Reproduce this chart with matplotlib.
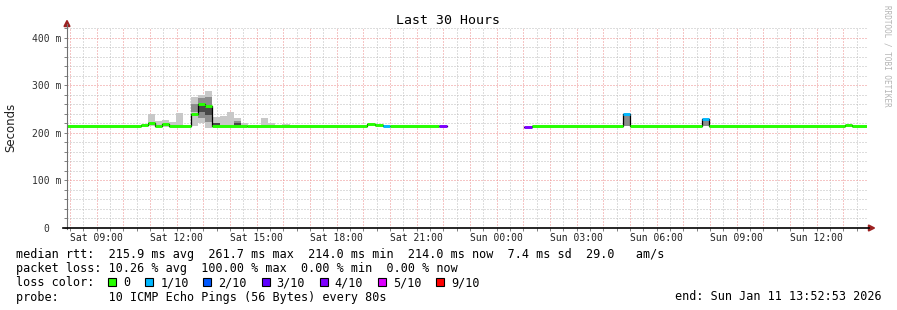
import datetime as dt

import matplotlib
matplotlib.use("Agg")
import matplotlib.pyplot as plt
import matplotlib.dates as mdates
from matplotlib.lines import Line2D
from matplotlib.patches import Polygon, Rectangle
from matplotlib.ticker import MultipleLocator, FixedLocator, FixedFormatter, FuncFormatter
from matplotlib.transforms import Affine2D

# --- data (times are local clock, values in ms) ---
END_TIME = dt.datetime(2026, 1, 11, 13, 52, 53)
START_TIME = END_TIME - dt.timedelta(hours=30)

# median rtt segments
seg_start = ["Sat 07:53", "Sat 10:39", "Sat 10:55", "Sat 11:11", "Sat 11:27", "Sat 11:43",
             "Sat 12:31", "Sat 12:47", "Sat 13:03", "Sat 13:19", "Sat 14:39", "Sat 19:08",
             "Sat 19:26", "Sat 19:44", "Sat 20:00", "Sat 21:50", "Sun 01:01", "Sun 01:19",
             "Sun 04:44", "Sun 05:00", "Sun 07:42", "Sun 07:57", "Sun 13:03", "Sun 13:19"]
seg_end = ["Sat 10:39", "Sat 10:55", "Sat 11:11", "Sat 11:27", "Sat 11:43", "Sat 12:31",
           "Sat 12:47", "Sat 13:03", "Sat 13:19", "Sat 14:39", "Sat 19:08", "Sat 19:26",
           "Sat 19:44", "Sat 20:00", "Sat 21:50", "Sat 22:08", "Sun 01:19", "Sun 04:44",
           "Sun 05:00", "Sun 07:42", "Sun 07:57", "Sun 13:03", "Sun 13:19", "Sun 13:52"]
seg_median = [214, 217, 222, 214, 218, 214, 239, 260, 257, 214, 215.5, 218,
              217, 214, 214, 214, 213, 214, 240, 214, 230, 214, 216, 214]
seg_loss = [0, 0, 0, 0, 0, 0, 0, 0, 0, 0, 0, 0,
            0, 1, 0, 4, 4, 0, 1, 0, 1, 0, 0, 0]

# smoke (spread of the pings), three shades
smoke_start = ["Sat 07:59", "Sat 10:55", "Sat 11:11", "Sat 11:27", "Sat 11:43", "Sat 11:59",
               "Sat 12:31", "Sat 12:47", "Sat 13:03", "Sat 13:19", "Sat 13:37", "Sat 13:53",
               "Sat 14:09", "Sat 14:24", "Sat 15:09", "Sat 15:25", "Sat 15:57",
               "Sun 04:44", "Sun 07:42"]
smoke_end = ["Sat 08:15", "Sat 11:11", "Sat 11:27", "Sat 11:43", "Sat 11:59", "Sat 12:15",
             "Sat 12:47", "Sat 13:03", "Sat 13:19", "Sat 13:37", "Sat 13:53", "Sat 14:09",
             "Sat 14:24", "Sat 14:40", "Sat 15:25", "Sat 15:41", "Sat 16:15",
             "Sun 05:00", "Sun 07:57"]
smoke_lo = [213, 214, 212, 213, 213, 213, 215, 222, 210, 213, 213, 213,
            213, 213, 214, 214, 214, 214, 214]
smoke_hi = [217, 240, 226, 228, 222.5, 242, 275, 280, 289, 233, 236, 245,
            232, 222, 231, 222, 219.5, 240, 230]
mid_lo = [None, None, None, None, None, None, 245, 231, 224, None, None, None,
          220, None, None, None, None, 214, 214]
mid_hi = [None, None, None, None, None, None, 262, 273, 276, None, None, None,
          226, None, None, None, None, 240, 230]
core_lo = [None, None, None, None, None, None, None, 245, 238, 215, None, None,
           214, None, None, None, None, None, None]
core_hi = [None, None, None, None, None, None, None, 262, 255, 220, None, None,
           220, None, None, None, None, None, None]

loss_labels = ["0", "1/10", "2/10", "3/10", "4/10", "5/10", "9/10"]
loss_colors = ["#26ff00", "#00b8ff", "#0059ff", "#5e00ff", "#7e00ff", "#dd00ff", "#ff0000"]
loss_index = {0: 0, 1: 1, 2: 2, 3: 3, 4: 4, 5: 5, 9: 6}

y_ticks = [0, 100, 200, 300, 400]
y_tick_labels = ["0  ", "100 m", "200 m", "300 m", "400 m"]

legend_lines = [
    "median rtt:  215.9 ms avg  261.7 ms max  214.0 ms min  214.0 ms now  7.4 ms sd  29.0   am/s",
    "packet loss: 10.26 % avg  100.00 % max  0.00 % min  0.00 % now",
    "loss color:",
    "probe:       10 ICMP Echo Pings (56 Bytes) every 80s",
]
end_label = "end: Sun Jan 11 13:52:53 2026"


def t(s):
    day, hm = s.split()
    d = dt.date(2026, 1, 10) if day == "Sat" else dt.date(2026, 1, 11)
    h, m = map(int, hm.split(":"))
    return dt.datetime(d.year, d.month, d.day, h, m)


W, H = 897, 310
MONO = "DejaVu Sans Mono"

fig = plt.figure(figsize=(W / 100, H / 100), dpi=100)
fig.patch.set_facecolor("white")
# pixel coordinates, origin top-left
pix = Affine2D().scale(1 / W, -1 / H).translate(0, 1) + fig.transFigure

ax = fig.add_axes([67 / W, (H - 228) / H, 800 / W, 200 / H])
ax.set_xlim(START_TIME, END_TIME)
ax.set_ylim(0, 421)
for sp in ax.spines.values():
    sp.set_visible(False)

# grid
ax.set_axisbelow(True)
ax.xaxis.set_major_locator(mdates.HourLocator())
ax.xaxis.set_minor_locator(mdates.MinuteLocator(byminute=[30]))
ax.xaxis.set_major_formatter(FuncFormatter(
    lambda v, pos: mdates.num2date(v).strftime("%a %H:%M") if mdates.num2date(v).hour % 3 == 0 else ""))
ax.yaxis.set_major_locator(FixedLocator(y_ticks))
ax.yaxis.set_major_formatter(FixedFormatter(y_tick_labels))
ax.yaxis.set_minor_locator(MultipleLocator(20))
ax.grid(which="major", color="#ec8c8c", linestyle=(0, (1, 2)), linewidth=0.72)
ax.grid(which="minor", color="#bdbdbd", linestyle=(0, (1, 2)), linewidth=0.72)

ax.tick_params(axis="both", which="both", length=2.2, width=0.7, color="#808080")
ax.tick_params(axis="x", which="major", labelsize=7, pad=1.5, labelcolor="#202020")
ax.tick_params(axis="y", which="major", labelsize=7, pad=2, labelcolor="#303030")
for lab in ax.get_xticklabels() + ax.get_yticklabels():
    lab.set_family(MONO)

# smoke
for i in range(len(smoke_start)):
    x0, x1 = t(smoke_start[i]), t(smoke_end[i])
    ax.fill_between([x0, x1], smoke_lo[i], smoke_hi[i], color="#c8c8c8", lw=0, zorder=2)
    if mid_lo[i] is not None:
        ax.fill_between([x0, x1], mid_lo[i], mid_hi[i], color="#8c8c8c", lw=0, zorder=2.1)
    if core_lo[i] is not None:
        ax.fill_between([x0, x1], core_lo[i], core_hi[i], color="#484848", lw=0, zorder=2.2)

# thin black median step line
xs, ys = [], []
for i in range(len(seg_start)):
    if i > 0 and seg_start[i] != seg_end[i - 1]:
        xs.append(t(seg_start[i]))
        ys.append(float("nan"))
    xs += [t(seg_start[i]), t(seg_end[i])]
    ys += [seg_median[i], seg_median[i]]
ax.plot(xs, ys, color="black", lw=0.9, zorder=3)

# loss-coloured median
for i in range(len(seg_start)):
    c = loss_colors[loss_index[seg_loss[i]]]
    ax.plot([t(seg_start[i]), t(seg_end[i])], [seg_median[i]] * 2, color=c, lw=2.1,
            solid_capstyle="butt", zorder=4)

# axes lines and arrows
fig.add_artist(Line2D([67, 67], [229, 24], color="#707070", lw=0.8, transform=pix))
fig.add_artist(Line2D([63, 869], [228, 228], color="black", lw=1.2, transform=pix))
fig.add_artist(Polygon([[64, 26.5], [70, 26.5], [67, 20.5]], closed=True, color="#9c2020",
                       transform=pix))
fig.add_artist(Polygon([[868.5, 225], [868.5, 231], [874.5, 228]], closed=True, color="#9c2020",
                       transform=pix))

# texts
fig.text(448, 24, "Last 30 Hours", family=MONO, fontsize=9.5, ha="center", va="baseline",
         transform=pix)
fig.text(11, 127, "Seconds", fontsize=8.5, rotation=90, ha="center", va="center",
         color="#202020", transform=pix)
fig.text(887, 5, "RRDTOOL / TOBI OETIKER", family=MONO, fontsize=5.5, rotation=-90,
         ha="center", va="top", color="#b4b4b4", transform=pix)

baselines = [258, 272, 286.5, 300.5]
for line, yb in zip(legend_lines, baselines):
    fig.text(16, yb, line, family=MONO, fontsize=8.5, ha="left", va="baseline", transform=pix)
fig.text(882, baselines[3], end_label, family=MONO, fontsize=8.5, ha="right", va="baseline",
         transform=pix)

bx = 108.3
for lab, col in zip(loss_labels, loss_colors):
    fig.add_artist(Rectangle((bx, 278), 8, 8, facecolor=col, edgecolor="black", lw=0.8,
                             transform=pix))
    fig.text(bx + 15, baselines[2], lab, family=MONO, fontsize=8.5, ha="left", va="baseline",
             transform=pix)
    bx += 15 + 7.1 * len(lab) + 14.8

fig.savefig("out.png", dpi=100, facecolor="white")
